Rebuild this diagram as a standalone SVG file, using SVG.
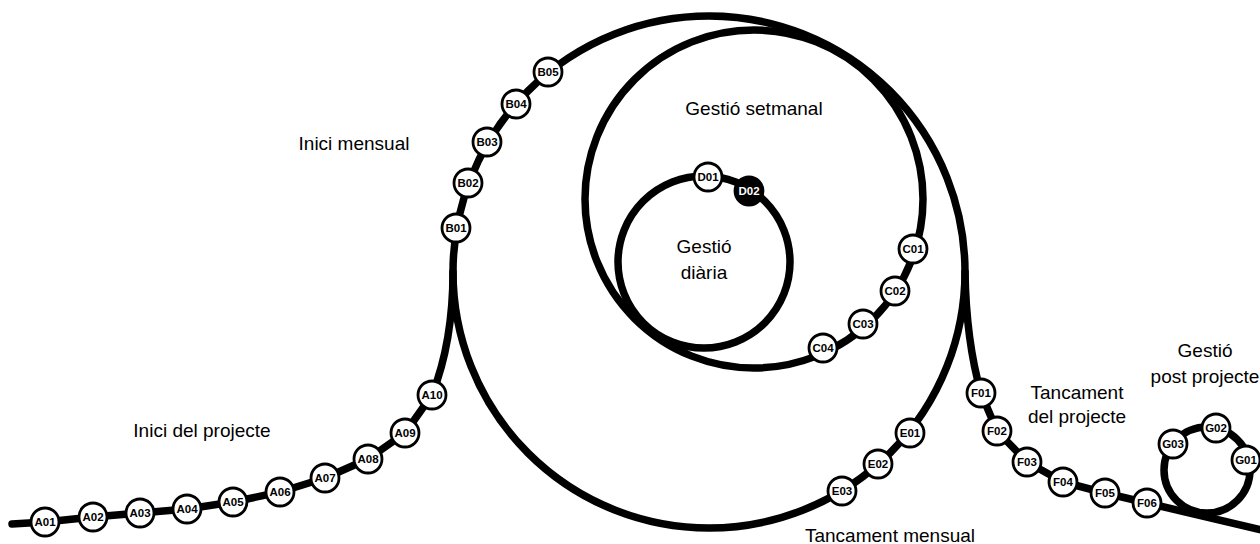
<svg xmlns="http://www.w3.org/2000/svg" width="1260" height="544" viewBox="0 0 1260 544">
<style>
.ln{fill:none;stroke:#000;stroke-width:7.5;stroke-linecap:round;stroke-linejoin:round}
.nd circle{fill:#fff;stroke:#000;stroke-width:2.8}
.nd text{font-family:"Liberation Sans",Arial,sans-serif;font-weight:bold;font-size:11.5px;text-anchor:middle;fill:#000}
.nd.dark circle{fill:#000}
.nd.dark text{fill:#fff}
.lbl{font-family:"Liberation Sans",Arial,sans-serif;font-size:19px;text-anchor:middle;fill:#000}
</style>
<rect width="1260" height="544" fill="#fff"/>
<g id="connectors">
<circle class="ln" cx="709" cy="272" r="256"/>
<circle class="ln" cx="754" cy="199" r="169"/>
<circle class="ln" cx="704" cy="262" r="86"/>
<circle class="ln" cx="1207" cy="470" r="43"/>
<path class="ln" d="M12 524 L45 522 L93 517 L140 513 L187 509 L233 502 L280 492 L325 478 L368 459 L405 433 L432 395 C445 362 453 322 453 272"/>
<path class="ln" d="M965 272 C966 330 973 365 981 393 L997 431 L1027 462 L1063 482 L1105 493 L1147 503 L1262 530"/>
</g>
<g id="labels">
<text class="lbl" x="354" y="150">Inici mensual</text>
<text class="lbl" x="202" y="437">Inici del projecte</text>
<text class="lbl" x="754" y="115">Gestió setmanal</text>
<text class="lbl" x="704" y="253">Gestió</text>
<text class="lbl" x="704" y="279">diària</text>
<text class="lbl" x="890" y="542">Tancament mensual</text>
<text class="lbl" x="1077" y="399">Tancament</text>
<text class="lbl" x="1077" y="423">del projecte</text>
<text class="lbl" x="1205" y="357">Gestió</text>
<text class="lbl" x="1205" y="383">post projecte</text>
</g>
<g id="A01" class="nd"><circle cx="45" cy="522" r="14"/><text x="45" y="526">A01</text></g>
<g id="A02" class="nd"><circle cx="93" cy="517" r="14"/><text x="93" y="521">A02</text></g>
<g id="A03" class="nd"><circle cx="140" cy="513" r="14"/><text x="140" y="517">A03</text></g>
<g id="A04" class="nd"><circle cx="187" cy="509" r="14"/><text x="187" y="513">A04</text></g>
<g id="A05" class="nd"><circle cx="233" cy="502" r="14"/><text x="233" y="506">A05</text></g>
<g id="A06" class="nd"><circle cx="280" cy="492" r="14"/><text x="280" y="496">A06</text></g>
<g id="A07" class="nd"><circle cx="325" cy="478" r="14"/><text x="325" y="482">A07</text></g>
<g id="A08" class="nd"><circle cx="368" cy="459" r="14"/><text x="368" y="463">A08</text></g>
<g id="A09" class="nd"><circle cx="405" cy="433" r="14"/><text x="405" y="437">A09</text></g>
<g id="A10" class="nd"><circle cx="432" cy="395" r="14"/><text x="432" y="399">A10</text></g>
<g id="B01" class="nd"><circle cx="456" cy="228" r="14"/><text x="456" y="232">B01</text></g>
<g id="B02" class="nd"><circle cx="468" cy="183" r="14"/><text x="468" y="187">B02</text></g>
<g id="B03" class="nd"><circle cx="487" cy="142" r="14"/><text x="487" y="146">B03</text></g>
<g id="B04" class="nd"><circle cx="516" cy="104" r="14"/><text x="516" y="108">B04</text></g>
<g id="B05" class="nd"><circle cx="548" cy="72" r="14"/><text x="548" y="76">B05</text></g>
<g id="C01" class="nd"><circle cx="913" cy="249" r="14"/><text x="913" y="253">C01</text></g>
<g id="C02" class="nd"><circle cx="895" cy="291" r="14"/><text x="895" y="295">C02</text></g>
<g id="C03" class="nd"><circle cx="863" cy="324" r="14"/><text x="863" y="328">C03</text></g>
<g id="C04" class="nd"><circle cx="823" cy="348" r="14"/><text x="823" y="352">C04</text></g>
<g id="D01" class="nd"><circle cx="708" cy="177" r="14"/><text x="708" y="181">D01</text></g>
<g id="D02" class="nd dark"><circle cx="749" cy="191" r="14"/><text x="749" y="195">D02</text></g>
<g id="E01" class="nd"><circle cx="910" cy="433" r="14"/><text x="910" y="437">E01</text></g>
<g id="E02" class="nd"><circle cx="878" cy="464" r="14"/><text x="878" y="468">E02</text></g>
<g id="E03" class="nd"><circle cx="842" cy="491" r="14"/><text x="842" y="495">E03</text></g>
<g id="F01" class="nd"><circle cx="981" cy="393" r="14"/><text x="981" y="397">F01</text></g>
<g id="F02" class="nd"><circle cx="997" cy="431" r="14"/><text x="997" y="435">F02</text></g>
<g id="F03" class="nd"><circle cx="1027" cy="462" r="14"/><text x="1027" y="466">F03</text></g>
<g id="F04" class="nd"><circle cx="1063" cy="482" r="14"/><text x="1063" y="486">F04</text></g>
<g id="F05" class="nd"><circle cx="1105" cy="493" r="14"/><text x="1105" y="497">F05</text></g>
<g id="F06" class="nd"><circle cx="1147" cy="503" r="14"/><text x="1147" y="507">F06</text></g>
<g id="G01" class="nd"><circle cx="1246" cy="460" r="14"/><text x="1246" y="464">G01</text></g>
<g id="G02" class="nd"><circle cx="1216" cy="428" r="14"/><text x="1216" y="432">G02</text></g>
<g id="G03" class="nd"><circle cx="1173" cy="444" r="14"/><text x="1173" y="448">G03</text></g>
</svg>
